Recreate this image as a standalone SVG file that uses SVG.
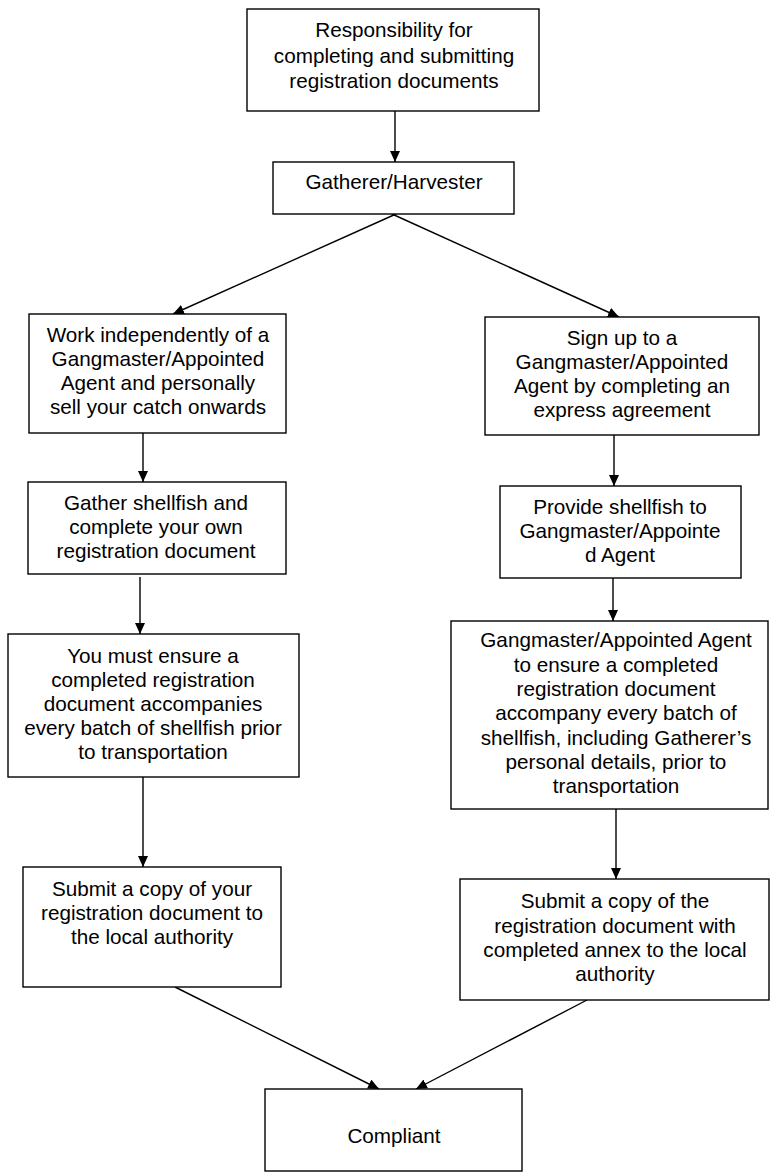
<svg xmlns="http://www.w3.org/2000/svg" width="770" height="1174" viewBox="0 0 770 1174">
<style>
.box{fill:#fff;stroke:#000;stroke-width:1.4}
.t{font-family:"Liberation Sans",Arial,sans-serif;font-size:20.7px;fill:#000;text-anchor:middle}
.c{stroke:#000;stroke-width:1.4;fill:none;marker-end:url(#ah)}
</style>
<defs>
<marker id="ah" markerUnits="userSpaceOnUse" markerWidth="12" markerHeight="10" refX="11" refY="5" orient="auto">
<path d="M0,0 L11,5 L0,10 z" fill="#000"/>
</marker>
</defs>
<rect width="770" height="1174" fill="#fff"/>
<g id="connectors">
<line class="c" x1="395" y1="111" x2="395" y2="162"/>
<line class="c" x1="396" y1="214" x2="173" y2="314"/>
<line class="c" x1="392" y1="214" x2="619" y2="317"/>
<line class="c" x1="143" y1="433" x2="143" y2="482"/>
<line class="c" x1="140" y1="577" x2="140" y2="634"/>
<line class="c" x1="143" y1="777" x2="143" y2="867"/>
<line class="c" x1="175" y1="987" x2="379" y2="1089"/>
<line class="c" x1="614" y1="435" x2="614" y2="486"/>
<line class="c" x1="613" y1="578" x2="613" y2="621"/>
<line class="c" x1="616" y1="809" x2="616" y2="879"/>
<line class="c" x1="587" y1="1000" x2="416" y2="1089"/>
</g>
<g id="n-responsibility">
<rect class="box" x="247" y="9" width="292" height="102"/>
<text class="t" x="394" y="37">Responsibility for</text>
<text class="t" x="394" y="62.5">completing and submitting</text>
<text class="t" x="394" y="88">registration documents</text>
</g>
<g id="n-gatherer">
<rect class="box" x="273" y="162" width="241" height="52"/>
<text class="t" x="394" y="189">Gatherer/Harvester</text>
</g>
<g id="n-independent">
<rect class="box" x="29" y="314" width="257" height="119"/>
<text class="t" x="158" y="342">Work independently of a</text>
<text class="t" x="158" y="366">Gangmaster/Appointed</text>
<text class="t" x="158" y="390">Agent and personally</text>
<text class="t" x="158" y="414">sell your catch onwards</text>
</g>
<g id="n-gather">
<rect class="box" x="28" y="482" width="258" height="92"/>
<text class="t" x="156" y="510">Gather shellfish and</text>
<text class="t" x="156" y="534">complete your own</text>
<text class="t" x="156" y="558">registration document</text>
</g>
<g id="n-ensure">
<rect class="box" x="8" y="634" width="291" height="143"/>
<text class="t" x="153" y="663">You must ensure a</text>
<text class="t" x="153" y="687">completed registration</text>
<text class="t" x="153" y="711">document accompanies</text>
<text class="t" x="153" y="735">every batch of shellfish prior</text>
<text class="t" x="153" y="759">to transportation</text>
</g>
<g id="n-submit-own">
<rect class="box" x="23" y="867" width="258" height="120"/>
<text class="t" x="152" y="896">Submit a copy of your</text>
<text class="t" x="152" y="920">registration document to</text>
<text class="t" x="152" y="944">the local authority</text>
</g>
<g id="n-signup">
<rect class="box" x="485" y="317" width="274" height="118"/>
<text class="t" x="622" y="345">Sign up to a</text>
<text class="t" x="622" y="369">Gangmaster/Appointed</text>
<text class="t" x="622" y="393">Agent by completing an</text>
<text class="t" x="622" y="417">express agreement</text>
</g>
<g id="n-provide">
<rect class="box" x="500" y="486" width="241" height="92"/>
<text class="t" x="620" y="514">Provide shellfish to</text>
<text class="t" x="620" y="538">Gangmaster/Appointe</text>
<text class="t" x="620" y="562">d Agent</text>
</g>
<g id="n-gangmaster-ensure">
<rect class="box" x="451" y="621" width="317" height="188"/>
<text class="t" x="616" y="647">Gangmaster/Appointed Agent</text>
<text class="t" x="616" y="671.5">to ensure a completed</text>
<text class="t" x="616" y="696">registration document</text>
<text class="t" x="616" y="720">accompany every batch of</text>
<text class="t" x="616" y="744.5">shellfish, including Gatherer’s</text>
<text class="t" x="616" y="769">personal details, prior to</text>
<text class="t" x="616" y="793">transportation</text>
</g>
<g id="n-submit-annex">
<rect class="box" x="460" y="879" width="309" height="121"/>
<text class="t" x="615" y="908">Submit a copy of the</text>
<text class="t" x="615" y="933">registration document with</text>
<text class="t" x="615" y="957">completed annex to the local</text>
<text class="t" x="615" y="981">authority</text>
</g>
<g id="n-compliant">
<rect class="box" x="265" y="1089" width="257" height="82"/>
<text class="t" x="394" y="1143">Compliant</text>
</g>
</svg>
